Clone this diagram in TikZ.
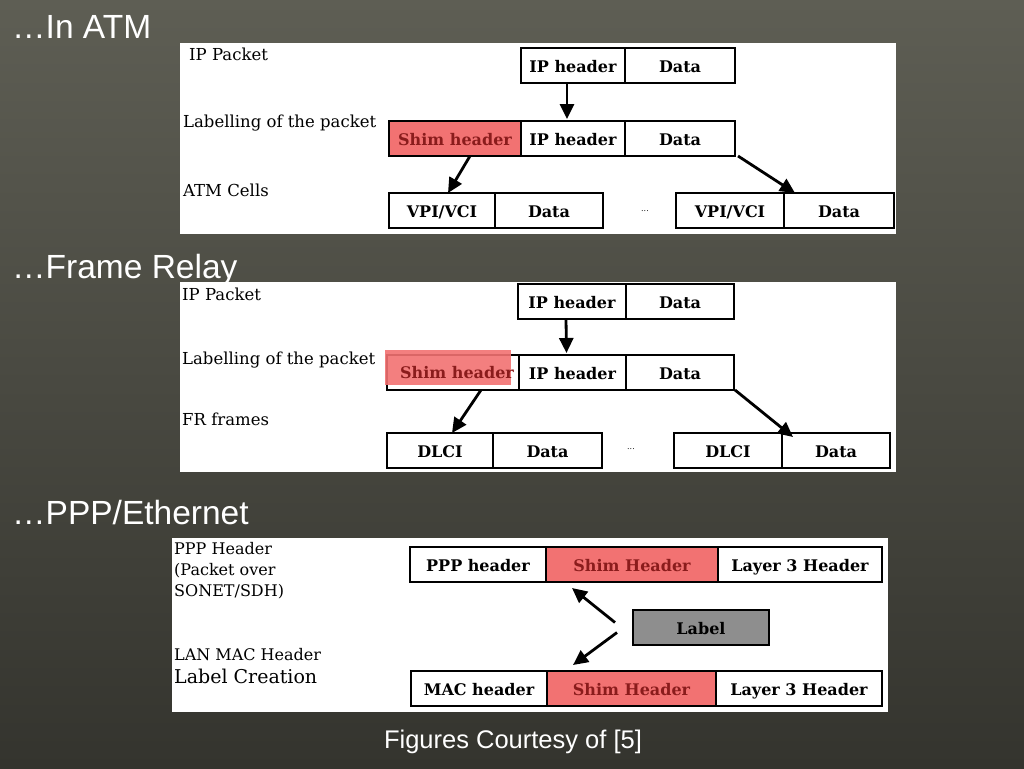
\documentclass[tikz,border=0pt]{standalone}
\usepackage{fontspec}
\setmainfont{Liberation Sans}
\newfontfamily\figfont{DejaVu Serif}
\usetikzlibrary{arrows.meta,positioning}

\definecolor{slidetop}{HTML}{5E5E54}
\definecolor{slidebot}{HTML}{34342E}
\definecolor{shimred}{HTML}{F27272}
\definecolor{shimtext}{HTML}{8A1C1C}
\definecolor{labelgray}{HTML}{8E8E8E}

\tikzset{
    title/.style={anchor=base west, text=white, inner sep=0pt, font=\fontsize{33.5}{33.5}\selectfont},
    side/.style={anchor=base west, inner sep=0pt, align=left, font=\figfont\fontsize{16.5}{21}\selectfont},
    cell/.style={draw, line width=1.3pt, fill=white, outer sep=0pt, inner sep=0pt,
        minimum height=35pt, text height=14pt, text depth=1pt,
        font=\figfont\bfseries\fontsize{16}{16}\selectfont},
    shim/.style={cell, fill=shimred, text=shimtext},
    flow/.style={line width=2.8pt, -{Triangle[length=15pt,width=14pt]}},
}

\begin{document}
\begin{tikzpicture}[x=1pt, y=-1pt]
    \useasboundingbox (0,0) rectangle (1024,768);
    \shade[top color=slidetop, bottom color=slidebot] (0,0) rectangle (1024,768);
    % titles
    \node[title] (tatm) at (12,38) {…In ATM};
    \node[title] (tfr) at (12,278) {…Frame Relay};
    \node[title] (tppp) at (12,524) {…PPP/Ethernet};
    \node[anchor=base, text=white, font=\fontsize{25.5}{25.5}\selectfont] (credit) at (513,748) {Figures Courtesy of [5]};

    % ATM
    \fill[white] (180,43) rectangle (896,234);
    \node[side] (sa1) at (189,60) {IP Packet};
    \node[side] (sa2) at (183,127) {Labelling of the packet};
    \node[side] (sa3) at (183,196) {ATM Cells};
    \node[cell, minimum width=104pt, anchor=north west] (ipA) at (521,48) {IP header};
    \node[cell, minimum width=110pt, right=0pt of ipA] (dataA) {Data};
    \node[shim, minimum width=132pt, anchor=north west] (shimB) at (389,121) {Shim header};
    \node[cell, minimum width=104pt, right=0pt of shimB] (ipB) {IP header};
    \node[cell, minimum width=110pt, right=0pt of ipB] (dataB) {Data};
    \node[cell, minimum width=106pt, anchor=north west] (vpiC) at (389,193) {VPI/VCI};
    \node[cell, minimum width=108pt, right=0pt of vpiC] (dataC) {Data};
    \node[font=\figfont\fontsize{8}{8}\selectfont] (dotsC) at (645,211) {...};
    \node[cell, minimum width=108pt, anchor=north west] (vpiD) at (676,193) {VPI/VCI};
    \node[cell, minimum width=110pt, right=0pt of vpiD] (dataD) {Data};
    \draw[flow] ([xshift=-6pt]ipA.south) -- ([xshift=-6pt,yshift=2pt]ipB.north);
    \draw[flow] ([xshift=15pt]shimB.south) -- ([xshift=6pt]vpiC.north);
    \draw[flow] ([xshift=3pt]dataB.south east) -- ([xshift=11pt]vpiD.north east);

    % Frame Relay
    \fill[white] (180,282) rectangle (896,472);
    \node[side] (sf1) at (182,300) {IP Packet};
    \node[side] (sf2) at (182,364) {Labelling of the packet};
    \node[side] (sf3) at (182,425) {FR frames};
    \node[cell, minimum width=108pt, anchor=north west] (ipE) at (518,284) {IP header};
    \node[cell, minimum width=108pt, right=0pt of ipE] (dataE) {Data};
    \node[cell, minimum width=132pt, anchor=north west] (shimF) at (387,355) {};
    \node[cell, minimum width=107pt, right=0pt of shimF] (ipF) {IP header};
    \node[cell, minimum width=108pt, right=0pt of ipF] (dataF) {Data};
    \fill[shimred, opacity=0.9] (385,350) rectangle (511,385);
    \node[font=\figfont\bfseries\fontsize{16}{16}\selectfont, text=shimtext] (shimFtext) at ([xshift=4pt]shimF.center) {Shim header};
    \node[cell, minimum width=106pt, anchor=north west] (dlciG) at (387,433) {DLCI};
    \node[cell, minimum width=109pt, right=0pt of dlciG] (dataG) {Data};
    \node[font=\figfont\fontsize{8}{8}\selectfont] (dotsG) at (631,449) {...};
    \node[cell, minimum width=108pt, anchor=north west] (dlciH) at (674,433) {DLCI};
    \node[cell, minimum width=108pt, right=0pt of dlciH] (dataH) {Data};
    \draw[flow] ([xshift=-6pt]ipE.south) -- ([xshift=-6pt,yshift=2pt]ipF.north);
    \draw[flow] ([xshift=28pt]shimF.south) -- ([xshift=12pt]dlciG.north);
    \draw[flow] ([xshift=1pt]dataF.south east) -- ([xshift=11pt,yshift=-4pt]dlciH.north east);

    % PPP / Ethernet
    \fill[white] (172,538) rectangle (888,712);
    \node[side, font=\figfont\fontsize{16}{21}\selectfont] (sp1) at (174,596) {PPP Header\\(Packet over\\SONET/SDH)};
    \node[side, font=\figfont\fontsize{16}{21}\selectfont] (sp2) at (174,660) {LAN MAC Header};
    \node[side, font=\figfont\fontsize{19}{19}\selectfont] (sp3) at (174,683) {Label Creation};
    \node[cell, minimum width=136pt, anchor=north west] (pppP) at (410,547) {PPP header};
    \node[shim, minimum width=172pt, right=0pt of pppP] (shimP) {Shim Header};
    \node[cell, minimum width=164pt, right=0pt of shimP] (l3P) {Layer 3 Header};
    \node[cell, fill=labelgray, minimum width=136pt, anchor=north west] (lbl) at (633,610) {Label};
    \node[cell, minimum width=136pt, anchor=north west] (macM) at (411,671) {MAC header};
    \node[shim, minimum width=169pt, right=0pt of macM] (shimM) {Shim Header};
    \node[cell, minimum width=166pt, right=0pt of shimM] (l3M) {Layer 3 Header};
    \draw[flow] ([xshift=-18pt,yshift=5pt]lbl.west) -- ([xshift=26pt,yshift=-6pt]shimP.south west);
    \draw[flow] ([xshift=-16pt,yshift=-5pt]lbl.west) -- ([xshift=26pt,yshift=6pt]shimM.north west);
\end{tikzpicture}
\end{document}
